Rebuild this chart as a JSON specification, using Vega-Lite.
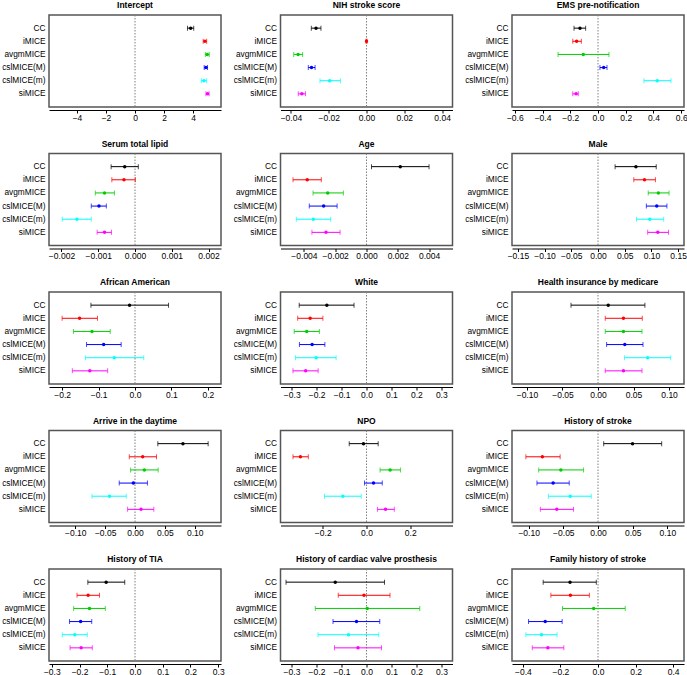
{
"$schema":"https://vega.github.io/schema/vega-lite/v6.json",
"padding":{"left":0,"top":0,"right":0,"bottom":0},
"bounds":"flush",
"columns":3,
"spacing":{"row":46.5,"column":59.5},
"datasets":{"d":[
{"v":"Intercept","m":"CC","est":3.84,"lo":3.62,"hi":4.05},
{"v":"Intercept","m":"iMICE","est":4.82,"lo":4.70,"hi":4.94},
{"v":"Intercept","m":"avgmMICE","est":4.98,"lo":4.85,"hi":5.12},
{"v":"Intercept","m":"cslMICE(M)","est":4.89,"lo":4.77,"hi":5.00},
{"v":"Intercept","m":"cslMICE(m)","est":4.75,"lo":4.57,"hi":4.94},
{"v":"Intercept","m":"siMICE","est":5.00,"lo":4.89,"hi":5.11},
{"v":"NIH stroke score","m":"CC","est":-0.0267,"lo":-0.0292,"hi":-0.0241},
{"v":"NIH stroke score","m":"iMICE","est":0.0,"lo":-0.0003,"hi":0.0003},
{"v":"NIH stroke score","m":"avgmMICE","est":-0.0362,"lo":-0.0385,"hi":-0.0338},
{"v":"NIH stroke score","m":"cslMICE(M)","est":-0.0291,"lo":-0.0308,"hi":-0.0272},
{"v":"NIH stroke score","m":"cslMICE(m)","est":-0.0195,"lo":-0.0246,"hi":-0.0138},
{"v":"NIH stroke score","m":"siMICE","est":-0.0342,"lo":-0.0361,"hi":-0.0323},
{"v":"EMS pre-notification","m":"CC","est":-0.130,"lo":-0.173,"hi":-0.089},
{"v":"EMS pre-notification","m":"iMICE","est":-0.154,"lo":-0.182,"hi":-0.120},
{"v":"EMS pre-notification","m":"avgmMICE","est":-0.106,"lo":-0.288,"hi":0.079},
{"v":"EMS pre-notification","m":"cslMICE(M)","est":0.041,"lo":0.014,"hi":0.065},
{"v":"EMS pre-notification","m":"cslMICE(m)","est":0.427,"lo":0.331,"hi":0.526},
{"v":"EMS pre-notification","m":"siMICE","est":-0.158,"lo":-0.182,"hi":-0.142},
{"v":"Serum total lipid","m":"CC","est":-0.00028,"lo":-0.00065,"hi":0.00009},
{"v":"Serum total lipid","m":"iMICE","est":-0.00030,"lo":-0.00063,"hi":0.00001},
{"v":"Serum total lipid","m":"avgmMICE","est":-0.00083,"lo":-0.00108,"hi":-0.00056},
{"v":"Serum total lipid","m":"cslMICE(M)","est":-0.00098,"lo":-0.00119,"hi":-0.00078},
{"v":"Serum total lipid","m":"cslMICE(m)","est":-0.00158,"lo":-0.00198,"hi":-0.00119},
{"v":"Serum total lipid","m":"siMICE","est":-0.00083,"lo":-0.00103,"hi":-0.00064},
{"v":"Age","m":"CC","est":0.00216,"lo":0.00032,"hi":0.00400},
{"v":"Age","m":"iMICE","est":-0.00379,"lo":-0.00470,"hi":-0.00289},
{"v":"Age","m":"avgmMICE","est":-0.00248,"lo":-0.00342,"hi":-0.00148},
{"v":"Age","m":"cslMICE(M)","est":-0.00274,"lo":-0.00366,"hi":-0.00188},
{"v":"Age","m":"cslMICE(m)","est":-0.00340,"lo":-0.00449,"hi":-0.00229},
{"v":"Age","m":"siMICE","est":-0.00259,"lo":-0.00349,"hi":-0.00169},
{"v":"Male","m":"CC","est":0.071,"lo":0.032,"hi":0.109},
{"v":"Male","m":"iMICE","est":0.087,"lo":0.067,"hi":0.1075},
{"v":"Male","m":"avgmMICE","est":0.113,"lo":0.094,"hi":0.133},
{"v":"Male","m":"cslMICE(M)","est":0.110,"lo":0.0905,"hi":0.129},
{"v":"Male","m":"cslMICE(m)","est":0.097,"lo":0.072,"hi":0.123},
{"v":"Male","m":"siMICE","est":0.112,"lo":0.093,"hi":0.132},
{"v":"African American","m":"CC","est":-0.015,"lo":-0.121,"hi":0.092},
{"v":"African American","m":"iMICE","est":-0.152,"lo":-0.200,"hi":-0.103},
{"v":"African American","m":"avgmMICE","est":-0.118,"lo":-0.169,"hi":-0.068},
{"v":"African American","m":"cslMICE(M)","est":-0.086,"lo":-0.133,"hi":-0.038},
{"v":"African American","m":"cslMICE(m)","est":-0.057,"lo":-0.136,"hi":0.024},
{"v":"African American","m":"siMICE","est":-0.124,"lo":-0.172,"hi":-0.075},
{"v":"White","m":"CC","est":-0.159,"lo":-0.270,"hi":-0.050},
{"v":"White","m":"iMICE","est":-0.226,"lo":-0.276,"hi":-0.175},
{"v":"White","m":"avgmMICE","est":-0.240,"lo":-0.290,"hi":-0.189},
{"v":"White","m":"cslMICE(M)","est":-0.218,"lo":-0.269,"hi":-0.167},
{"v":"White","m":"cslMICE(m)","est":-0.202,"lo":-0.285,"hi":-0.122},
{"v":"White","m":"siMICE","est":-0.244,"lo":-0.295,"hi":-0.194},
{"v":"Health insurance by medicare","m":"CC","est":0.0144,"lo":-0.038,"hi":0.066},
{"v":"Health insurance by medicare","m":"iMICE","est":0.0358,"lo":0.0102,"hi":0.0623},
{"v":"Health insurance by medicare","m":"avgmMICE","est":0.0358,"lo":0.0102,"hi":0.0619},
{"v":"Health insurance by medicare","m":"cslMICE(M)","est":0.0377,"lo":0.0121,"hi":0.0633},
{"v":"Health insurance by medicare","m":"cslMICE(m)","est":0.0698,"lo":0.0372,"hi":0.1023},
{"v":"Health insurance by medicare","m":"siMICE","est":0.0358,"lo":0.0102,"hi":0.0619},
{"v":"Arrive in the daytime","m":"CC","est":0.0803,"lo":0.0382,"hi":0.1225},
{"v":"Arrive in the daytime","m":"iMICE","est":0.0129,"lo":-0.0096,"hi":0.0360},
{"v":"Arrive in the daytime","m":"avgmMICE","est":0.0157,"lo":-0.0073,"hi":0.0388},
{"v":"Arrive in the daytime","m":"cslMICE(M)","est":-0.0028,"lo":-0.0264,"hi":0.0208},
{"v":"Arrive in the daytime","m":"cslMICE(m)","est":-0.0427,"lo":-0.0719,"hi":-0.0146},
{"v":"Arrive in the daytime","m":"siMICE","est":0.0101,"lo":-0.0124,"hi":0.0315},
{"v":"NPO","m":"CC","est":-0.0137,"lo":-0.079,"hi":0.0534},
{"v":"NPO","m":"iMICE","est":-0.302,"lo":-0.336,"hi":-0.266},
{"v":"NPO","m":"avgmMICE","est":0.108,"lo":0.062,"hi":0.155},
{"v":"NPO","m":"cslMICE(M)","est":0.032,"lo":-0.009,"hi":0.072},
{"v":"NPO","m":"cslMICE(m)","est":-0.108,"lo":-0.192,"hi":-0.024},
{"v":"NPO","m":"siMICE","est":0.087,"lo":0.050,"hi":0.127},
{"v":"History of stroke","m":"CC","est":0.0498,"lo":0.0082,"hi":0.0918},
{"v":"History of stroke","m":"iMICE","est":-0.0802,"lo":-0.104,"hi":-0.0546},
{"v":"History of stroke","m":"avgmMICE","est":-0.0536,"lo":-0.0855,"hi":-0.0208},
{"v":"History of stroke","m":"cslMICE(M)","est":-0.0647,"lo":-0.088,"hi":-0.0415},
{"v":"History of stroke","m":"cslMICE(m)","est":-0.0401,"lo":-0.0715,"hi":-0.0097},
{"v":"History of stroke","m":"siMICE","est":-0.0594,"lo":-0.0831,"hi":-0.0353},
{"v":"History of TIA","m":"CC","est":-0.104,"lo":-0.170,"hi":-0.037},
{"v":"History of TIA","m":"iMICE","est":-0.169,"lo":-0.209,"hi":-0.128},
{"v":"History of TIA","m":"avgmMICE","est":-0.164,"lo":-0.221,"hi":-0.107},
{"v":"History of TIA","m":"cslMICE(M)","est":-0.196,"lo":-0.236,"hi":-0.156},
{"v":"History of TIA","m":"cslMICE(m)","est":-0.217,"lo":-0.262,"hi":-0.172},
{"v":"History of TIA","m":"siMICE","est":-0.194,"lo":-0.234,"hi":-0.154},
{"v":"History of cardiac valve prosthesis","m":"CC","est":-0.125,"lo":-0.322,"hi":0.072},
{"v":"History of cardiac valve prosthesis","m":"iMICE","est":-0.010,"lo":-0.113,"hi":0.094},
{"v":"History of cardiac valve prosthesis","m":"avgmMICE","est":0.003,"lo":-0.205,"hi":0.213},
{"v":"History of cardiac valve prosthesis","m":"cslMICE(M)","est":-0.040,"lo":-0.134,"hi":0.053},
{"v":"History of cardiac valve prosthesis","m":"cslMICE(m)","est":-0.072,"lo":-0.194,"hi":0.049},
{"v":"History of cardiac valve prosthesis","m":"siMICE","est":-0.034,"lo":-0.128,"hi":0.060},
{"v":"Family history of stroke","m":"CC","est":-0.149,"lo":-0.292,"hi":-0.009},
{"v":"Family history of stroke","m":"iMICE","est":-0.147,"lo":-0.251,"hi":-0.046},
{"v":"Family history of stroke","m":"avgmMICE","est":-0.023,"lo":-0.189,"hi":0.145},
{"v":"Family history of stroke","m":"cslMICE(M)","est":-0.281,"lo":-0.370,"hi":-0.191},
{"v":"Family history of stroke","m":"cslMICE(m)","est":-0.301,"lo":-0.384,"hi":-0.218},
{"v":"Family history of stroke","m":"siMICE","est":-0.267,"lo":-0.350,"hi":-0.182}
]},
"concat":[
{"title":"Intercept","width":172,"height":92,"data":{"name":"d"},"transform":[{"filter":"datum.v==='Intercept'"}],"layer":[
{"transform":[{"filter":"datum.m==='CC'"}],"mark":{"type":"rule","color":"#808080","strokeDash":[1.5,1.5]},"encoding":{"x":{"datum":0,"type":"quantitative","scale":{"domain":[-5.93,5.93],"nice":false,"zero":false},"axis":{"title":null,"values":[-4,-2,0,2,4],"format":"d","labelOverlap":false,"labelFlush":false}}}},
{"mark":"rule","encoding":{"x":{"field":"lo","type":"quantitative","scale":{"domain":[-5.93,5.93],"nice":false,"zero":false},"axis":{"title":null,"values":[-4,-2,0,2,4],"format":"d","labelOverlap":false,"labelFlush":false}},"x2":{"field":"hi"},"y":{"field":"m","type":"nominal","sort":["CC","iMICE","avgmMICE","cslMICE(M)","cslMICE(m)","siMICE"],"scale":{"type":"point","padding":1.24},"axis":{"title":null}},"color":{"field":"m","type":"nominal","scale":{"domain":["CC","iMICE","avgmMICE","cslMICE(M)","cslMICE(m)","siMICE"],"range":["#000000","#FF0000","#00CD00","#0000FF","#00FFFF","#FF00FF"]},"legend":null}}},
{"mark":"tick","encoding":{"x":{"field":"lo","type":"quantitative","scale":{"domain":[-5.93,5.93],"nice":false,"zero":false},"axis":{"title":null,"values":[-4,-2,0,2,4],"format":"d","labelOverlap":false,"labelFlush":false}},"y":{"field":"m","type":"nominal","sort":["CC","iMICE","avgmMICE","cslMICE(M)","cslMICE(m)","siMICE"]},"color":{"field":"m","type":"nominal","legend":null}}},
{"mark":"tick","encoding":{"x":{"field":"hi","type":"quantitative","scale":{"domain":[-5.93,5.93],"nice":false,"zero":false},"axis":{"title":null,"values":[-4,-2,0,2,4],"format":"d","labelOverlap":false,"labelFlush":false}},"y":{"field":"m","type":"nominal","sort":["CC","iMICE","avgmMICE","cslMICE(M)","cslMICE(m)","siMICE"]},"color":{"field":"m","type":"nominal","legend":null}}},
{"mark":"point","encoding":{"x":{"field":"est","type":"quantitative","scale":{"domain":[-5.93,5.93],"nice":false,"zero":false},"axis":{"title":null,"values":[-4,-2,0,2,4],"format":"d","labelOverlap":false,"labelFlush":false}},"y":{"field":"m","type":"nominal","sort":["CC","iMICE","avgmMICE","cslMICE(M)","cslMICE(m)","siMICE"]},"color":{"field":"m","type":"nominal","legend":null}}}
]},
{"title":"NIH stroke score","width":172,"height":92,"data":{"name":"d"},"transform":[{"filter":"datum.v==='NIH stroke score'"}],"layer":[
{"transform":[{"filter":"datum.m==='CC'"}],"mark":{"type":"rule","color":"#808080","strokeDash":[1.5,1.5]},"encoding":{"x":{"datum":0,"type":"quantitative","scale":{"domain":[-0.0455,0.0455],"nice":false,"zero":false},"axis":{"title":null,"values":[-0.04,-0.02,0,0.02,0.04],"format":".2f","labelOverlap":false,"labelFlush":false}}}},
{"mark":"rule","encoding":{"x":{"field":"lo","type":"quantitative","scale":{"domain":[-0.0455,0.0455],"nice":false,"zero":false},"axis":{"title":null,"values":[-0.04,-0.02,0,0.02,0.04],"format":".2f","labelOverlap":false,"labelFlush":false}},"x2":{"field":"hi"},"y":{"field":"m","type":"nominal","sort":["CC","iMICE","avgmMICE","cslMICE(M)","cslMICE(m)","siMICE"],"scale":{"type":"point","padding":1.24},"axis":{"title":null}},"color":{"field":"m","type":"nominal","scale":{"domain":["CC","iMICE","avgmMICE","cslMICE(M)","cslMICE(m)","siMICE"],"range":["#000000","#FF0000","#00CD00","#0000FF","#00FFFF","#FF00FF"]},"legend":null}}},
{"mark":"tick","encoding":{"x":{"field":"lo","type":"quantitative","scale":{"domain":[-0.0455,0.0455],"nice":false,"zero":false},"axis":{"title":null,"values":[-0.04,-0.02,0,0.02,0.04],"format":".2f","labelOverlap":false,"labelFlush":false}},"y":{"field":"m","type":"nominal","sort":["CC","iMICE","avgmMICE","cslMICE(M)","cslMICE(m)","siMICE"]},"color":{"field":"m","type":"nominal","legend":null}}},
{"mark":"tick","encoding":{"x":{"field":"hi","type":"quantitative","scale":{"domain":[-0.0455,0.0455],"nice":false,"zero":false},"axis":{"title":null,"values":[-0.04,-0.02,0,0.02,0.04],"format":".2f","labelOverlap":false,"labelFlush":false}},"y":{"field":"m","type":"nominal","sort":["CC","iMICE","avgmMICE","cslMICE(M)","cslMICE(m)","siMICE"]},"color":{"field":"m","type":"nominal","legend":null}}},
{"mark":"point","encoding":{"x":{"field":"est","type":"quantitative","scale":{"domain":[-0.0455,0.0455],"nice":false,"zero":false},"axis":{"title":null,"values":[-0.04,-0.02,0,0.02,0.04],"format":".2f","labelOverlap":false,"labelFlush":false}},"y":{"field":"m","type":"nominal","sort":["CC","iMICE","avgmMICE","cslMICE(M)","cslMICE(m)","siMICE"]},"color":{"field":"m","type":"nominal","legend":null}}}
]},
{"title":"EMS pre-notification","width":172,"height":92,"data":{"name":"d"},"transform":[{"filter":"datum.v==='EMS pre-notification'"}],"layer":[
{"transform":[{"filter":"datum.m==='CC'"}],"mark":{"type":"rule","color":"#808080","strokeDash":[1.5,1.5]},"encoding":{"x":{"datum":0,"type":"quantitative","scale":{"domain":[-0.62,0.62],"nice":false,"zero":false},"axis":{"title":null,"values":[-0.6,-0.4,-0.2,0,0.2,0.4,0.6],"format":".1f","labelOverlap":false,"labelFlush":false}}}},
{"mark":"rule","encoding":{"x":{"field":"lo","type":"quantitative","scale":{"domain":[-0.62,0.62],"nice":false,"zero":false},"axis":{"title":null,"values":[-0.6,-0.4,-0.2,0,0.2,0.4,0.6],"format":".1f","labelOverlap":false,"labelFlush":false}},"x2":{"field":"hi"},"y":{"field":"m","type":"nominal","sort":["CC","iMICE","avgmMICE","cslMICE(M)","cslMICE(m)","siMICE"],"scale":{"type":"point","padding":1.24},"axis":{"title":null}},"color":{"field":"m","type":"nominal","scale":{"domain":["CC","iMICE","avgmMICE","cslMICE(M)","cslMICE(m)","siMICE"],"range":["#000000","#FF0000","#00CD00","#0000FF","#00FFFF","#FF00FF"]},"legend":null}}},
{"mark":"tick","encoding":{"x":{"field":"lo","type":"quantitative","scale":{"domain":[-0.62,0.62],"nice":false,"zero":false},"axis":{"title":null,"values":[-0.6,-0.4,-0.2,0,0.2,0.4,0.6],"format":".1f","labelOverlap":false,"labelFlush":false}},"y":{"field":"m","type":"nominal","sort":["CC","iMICE","avgmMICE","cslMICE(M)","cslMICE(m)","siMICE"]},"color":{"field":"m","type":"nominal","legend":null}}},
{"mark":"tick","encoding":{"x":{"field":"hi","type":"quantitative","scale":{"domain":[-0.62,0.62],"nice":false,"zero":false},"axis":{"title":null,"values":[-0.6,-0.4,-0.2,0,0.2,0.4,0.6],"format":".1f","labelOverlap":false,"labelFlush":false}},"y":{"field":"m","type":"nominal","sort":["CC","iMICE","avgmMICE","cslMICE(M)","cslMICE(m)","siMICE"]},"color":{"field":"m","type":"nominal","legend":null}}},
{"mark":"point","encoding":{"x":{"field":"est","type":"quantitative","scale":{"domain":[-0.62,0.62],"nice":false,"zero":false},"axis":{"title":null,"values":[-0.6,-0.4,-0.2,0,0.2,0.4,0.6],"format":".1f","labelOverlap":false,"labelFlush":false}},"y":{"field":"m","type":"nominal","sort":["CC","iMICE","avgmMICE","cslMICE(M)","cslMICE(m)","siMICE"]},"color":{"field":"m","type":"nominal","legend":null}}}
]},
{"title":"Serum total lipid","width":172,"height":92,"data":{"name":"d"},"transform":[{"filter":"datum.v==='Serum total lipid'"}],"layer":[
{"transform":[{"filter":"datum.m==='CC'"}],"mark":{"type":"rule","color":"#808080","strokeDash":[1.5,1.5]},"encoding":{"x":{"datum":0,"type":"quantitative","scale":{"domain":[-0.00234,0.00234],"nice":false,"zero":false},"axis":{"title":null,"values":[-0.002,-0.001,0,0.001,0.002],"format":".3f","labelOverlap":false,"labelFlush":false}}}},
{"mark":"rule","encoding":{"x":{"field":"lo","type":"quantitative","scale":{"domain":[-0.00234,0.00234],"nice":false,"zero":false},"axis":{"title":null,"values":[-0.002,-0.001,0,0.001,0.002],"format":".3f","labelOverlap":false,"labelFlush":false}},"x2":{"field":"hi"},"y":{"field":"m","type":"nominal","sort":["CC","iMICE","avgmMICE","cslMICE(M)","cslMICE(m)","siMICE"],"scale":{"type":"point","padding":1.24},"axis":{"title":null}},"color":{"field":"m","type":"nominal","scale":{"domain":["CC","iMICE","avgmMICE","cslMICE(M)","cslMICE(m)","siMICE"],"range":["#000000","#FF0000","#00CD00","#0000FF","#00FFFF","#FF00FF"]},"legend":null}}},
{"mark":"tick","encoding":{"x":{"field":"lo","type":"quantitative","scale":{"domain":[-0.00234,0.00234],"nice":false,"zero":false},"axis":{"title":null,"values":[-0.002,-0.001,0,0.001,0.002],"format":".3f","labelOverlap":false,"labelFlush":false}},"y":{"field":"m","type":"nominal","sort":["CC","iMICE","avgmMICE","cslMICE(M)","cslMICE(m)","siMICE"]},"color":{"field":"m","type":"nominal","legend":null}}},
{"mark":"tick","encoding":{"x":{"field":"hi","type":"quantitative","scale":{"domain":[-0.00234,0.00234],"nice":false,"zero":false},"axis":{"title":null,"values":[-0.002,-0.001,0,0.001,0.002],"format":".3f","labelOverlap":false,"labelFlush":false}},"y":{"field":"m","type":"nominal","sort":["CC","iMICE","avgmMICE","cslMICE(M)","cslMICE(m)","siMICE"]},"color":{"field":"m","type":"nominal","legend":null}}},
{"mark":"point","encoding":{"x":{"field":"est","type":"quantitative","scale":{"domain":[-0.00234,0.00234],"nice":false,"zero":false},"axis":{"title":null,"values":[-0.002,-0.001,0,0.001,0.002],"format":".3f","labelOverlap":false,"labelFlush":false}},"y":{"field":"m","type":"nominal","sort":["CC","iMICE","avgmMICE","cslMICE(M)","cslMICE(m)","siMICE"]},"color":{"field":"m","type":"nominal","legend":null}}}
]},
{"title":"Age","width":172,"height":92,"data":{"name":"d"},"transform":[{"filter":"datum.v==='Age'"}],"layer":[
{"transform":[{"filter":"datum.m==='CC'"}],"mark":{"type":"rule","color":"#808080","strokeDash":[1.5,1.5]},"encoding":{"x":{"datum":0,"type":"quantitative","scale":{"domain":[-0.0055,0.0055],"nice":false,"zero":false},"axis":{"title":null,"values":[-0.004,-0.002,0,0.002,0.004],"format":".3f","labelOverlap":false,"labelFlush":false}}}},
{"mark":"rule","encoding":{"x":{"field":"lo","type":"quantitative","scale":{"domain":[-0.0055,0.0055],"nice":false,"zero":false},"axis":{"title":null,"values":[-0.004,-0.002,0,0.002,0.004],"format":".3f","labelOverlap":false,"labelFlush":false}},"x2":{"field":"hi"},"y":{"field":"m","type":"nominal","sort":["CC","iMICE","avgmMICE","cslMICE(M)","cslMICE(m)","siMICE"],"scale":{"type":"point","padding":1.24},"axis":{"title":null}},"color":{"field":"m","type":"nominal","scale":{"domain":["CC","iMICE","avgmMICE","cslMICE(M)","cslMICE(m)","siMICE"],"range":["#000000","#FF0000","#00CD00","#0000FF","#00FFFF","#FF00FF"]},"legend":null}}},
{"mark":"tick","encoding":{"x":{"field":"lo","type":"quantitative","scale":{"domain":[-0.0055,0.0055],"nice":false,"zero":false},"axis":{"title":null,"values":[-0.004,-0.002,0,0.002,0.004],"format":".3f","labelOverlap":false,"labelFlush":false}},"y":{"field":"m","type":"nominal","sort":["CC","iMICE","avgmMICE","cslMICE(M)","cslMICE(m)","siMICE"]},"color":{"field":"m","type":"nominal","legend":null}}},
{"mark":"tick","encoding":{"x":{"field":"hi","type":"quantitative","scale":{"domain":[-0.0055,0.0055],"nice":false,"zero":false},"axis":{"title":null,"values":[-0.004,-0.002,0,0.002,0.004],"format":".3f","labelOverlap":false,"labelFlush":false}},"y":{"field":"m","type":"nominal","sort":["CC","iMICE","avgmMICE","cslMICE(M)","cslMICE(m)","siMICE"]},"color":{"field":"m","type":"nominal","legend":null}}},
{"mark":"point","encoding":{"x":{"field":"est","type":"quantitative","scale":{"domain":[-0.0055,0.0055],"nice":false,"zero":false},"axis":{"title":null,"values":[-0.004,-0.002,0,0.002,0.004],"format":".3f","labelOverlap":false,"labelFlush":false}},"y":{"field":"m","type":"nominal","sort":["CC","iMICE","avgmMICE","cslMICE(M)","cslMICE(m)","siMICE"]},"color":{"field":"m","type":"nominal","legend":null}}}
]},
{"title":"Male","width":172,"height":92,"data":{"name":"d"},"transform":[{"filter":"datum.v==='Male'"}],"layer":[
{"transform":[{"filter":"datum.m==='CC'"}],"mark":{"type":"rule","color":"#808080","strokeDash":[1.5,1.5]},"encoding":{"x":{"datum":0,"type":"quantitative","scale":{"domain":[-0.161,0.161],"nice":false,"zero":false},"axis":{"title":null,"values":[-0.15,-0.1,-0.05,0,0.05,0.1,0.15],"format":".2f","labelOverlap":false,"labelFlush":false}}}},
{"mark":"rule","encoding":{"x":{"field":"lo","type":"quantitative","scale":{"domain":[-0.161,0.161],"nice":false,"zero":false},"axis":{"title":null,"values":[-0.15,-0.1,-0.05,0,0.05,0.1,0.15],"format":".2f","labelOverlap":false,"labelFlush":false}},"x2":{"field":"hi"},"y":{"field":"m","type":"nominal","sort":["CC","iMICE","avgmMICE","cslMICE(M)","cslMICE(m)","siMICE"],"scale":{"type":"point","padding":1.24},"axis":{"title":null}},"color":{"field":"m","type":"nominal","scale":{"domain":["CC","iMICE","avgmMICE","cslMICE(M)","cslMICE(m)","siMICE"],"range":["#000000","#FF0000","#00CD00","#0000FF","#00FFFF","#FF00FF"]},"legend":null}}},
{"mark":"tick","encoding":{"x":{"field":"lo","type":"quantitative","scale":{"domain":[-0.161,0.161],"nice":false,"zero":false},"axis":{"title":null,"values":[-0.15,-0.1,-0.05,0,0.05,0.1,0.15],"format":".2f","labelOverlap":false,"labelFlush":false}},"y":{"field":"m","type":"nominal","sort":["CC","iMICE","avgmMICE","cslMICE(M)","cslMICE(m)","siMICE"]},"color":{"field":"m","type":"nominal","legend":null}}},
{"mark":"tick","encoding":{"x":{"field":"hi","type":"quantitative","scale":{"domain":[-0.161,0.161],"nice":false,"zero":false},"axis":{"title":null,"values":[-0.15,-0.1,-0.05,0,0.05,0.1,0.15],"format":".2f","labelOverlap":false,"labelFlush":false}},"y":{"field":"m","type":"nominal","sort":["CC","iMICE","avgmMICE","cslMICE(M)","cslMICE(m)","siMICE"]},"color":{"field":"m","type":"nominal","legend":null}}},
{"mark":"point","encoding":{"x":{"field":"est","type":"quantitative","scale":{"domain":[-0.161,0.161],"nice":false,"zero":false},"axis":{"title":null,"values":[-0.15,-0.1,-0.05,0,0.05,0.1,0.15],"format":".2f","labelOverlap":false,"labelFlush":false}},"y":{"field":"m","type":"nominal","sort":["CC","iMICE","avgmMICE","cslMICE(M)","cslMICE(m)","siMICE"]},"color":{"field":"m","type":"nominal","legend":null}}}
]},
{"title":"African American","width":172,"height":92,"data":{"name":"d"},"transform":[{"filter":"datum.v==='African American'"}],"layer":[
{"transform":[{"filter":"datum.m==='CC'"}],"mark":{"type":"rule","color":"#808080","strokeDash":[1.5,1.5]},"encoding":{"x":{"datum":0,"type":"quantitative","scale":{"domain":[-0.236,0.236],"nice":false,"zero":false},"axis":{"title":null,"values":[-0.2,-0.1,0,0.1,0.2],"format":".1f","labelOverlap":false,"labelFlush":false}}}},
{"mark":"rule","encoding":{"x":{"field":"lo","type":"quantitative","scale":{"domain":[-0.236,0.236],"nice":false,"zero":false},"axis":{"title":null,"values":[-0.2,-0.1,0,0.1,0.2],"format":".1f","labelOverlap":false,"labelFlush":false}},"x2":{"field":"hi"},"y":{"field":"m","type":"nominal","sort":["CC","iMICE","avgmMICE","cslMICE(M)","cslMICE(m)","siMICE"],"scale":{"type":"point","padding":1.24},"axis":{"title":null}},"color":{"field":"m","type":"nominal","scale":{"domain":["CC","iMICE","avgmMICE","cslMICE(M)","cslMICE(m)","siMICE"],"range":["#000000","#FF0000","#00CD00","#0000FF","#00FFFF","#FF00FF"]},"legend":null}}},
{"mark":"tick","encoding":{"x":{"field":"lo","type":"quantitative","scale":{"domain":[-0.236,0.236],"nice":false,"zero":false},"axis":{"title":null,"values":[-0.2,-0.1,0,0.1,0.2],"format":".1f","labelOverlap":false,"labelFlush":false}},"y":{"field":"m","type":"nominal","sort":["CC","iMICE","avgmMICE","cslMICE(M)","cslMICE(m)","siMICE"]},"color":{"field":"m","type":"nominal","legend":null}}},
{"mark":"tick","encoding":{"x":{"field":"hi","type":"quantitative","scale":{"domain":[-0.236,0.236],"nice":false,"zero":false},"axis":{"title":null,"values":[-0.2,-0.1,0,0.1,0.2],"format":".1f","labelOverlap":false,"labelFlush":false}},"y":{"field":"m","type":"nominal","sort":["CC","iMICE","avgmMICE","cslMICE(M)","cslMICE(m)","siMICE"]},"color":{"field":"m","type":"nominal","legend":null}}},
{"mark":"point","encoding":{"x":{"field":"est","type":"quantitative","scale":{"domain":[-0.236,0.236],"nice":false,"zero":false},"axis":{"title":null,"values":[-0.2,-0.1,0,0.1,0.2],"format":".1f","labelOverlap":false,"labelFlush":false}},"y":{"field":"m","type":"nominal","sort":["CC","iMICE","avgmMICE","cslMICE(M)","cslMICE(m)","siMICE"]},"color":{"field":"m","type":"nominal","legend":null}}}
]},
{"title":"White","width":172,"height":92,"data":{"name":"d"},"transform":[{"filter":"datum.v==='White'"}],"layer":[
{"transform":[{"filter":"datum.m==='CC'"}],"mark":{"type":"rule","color":"#808080","strokeDash":[1.5,1.5]},"encoding":{"x":{"datum":0,"type":"quantitative","scale":{"domain":[-0.345,0.345],"nice":false,"zero":false},"axis":{"title":null,"values":[-0.3,-0.2,-0.1,0,0.1,0.2,0.3],"format":".1f","labelOverlap":false,"labelFlush":false}}}},
{"mark":"rule","encoding":{"x":{"field":"lo","type":"quantitative","scale":{"domain":[-0.345,0.345],"nice":false,"zero":false},"axis":{"title":null,"values":[-0.3,-0.2,-0.1,0,0.1,0.2,0.3],"format":".1f","labelOverlap":false,"labelFlush":false}},"x2":{"field":"hi"},"y":{"field":"m","type":"nominal","sort":["CC","iMICE","avgmMICE","cslMICE(M)","cslMICE(m)","siMICE"],"scale":{"type":"point","padding":1.24},"axis":{"title":null}},"color":{"field":"m","type":"nominal","scale":{"domain":["CC","iMICE","avgmMICE","cslMICE(M)","cslMICE(m)","siMICE"],"range":["#000000","#FF0000","#00CD00","#0000FF","#00FFFF","#FF00FF"]},"legend":null}}},
{"mark":"tick","encoding":{"x":{"field":"lo","type":"quantitative","scale":{"domain":[-0.345,0.345],"nice":false,"zero":false},"axis":{"title":null,"values":[-0.3,-0.2,-0.1,0,0.1,0.2,0.3],"format":".1f","labelOverlap":false,"labelFlush":false}},"y":{"field":"m","type":"nominal","sort":["CC","iMICE","avgmMICE","cslMICE(M)","cslMICE(m)","siMICE"]},"color":{"field":"m","type":"nominal","legend":null}}},
{"mark":"tick","encoding":{"x":{"field":"hi","type":"quantitative","scale":{"domain":[-0.345,0.345],"nice":false,"zero":false},"axis":{"title":null,"values":[-0.3,-0.2,-0.1,0,0.1,0.2,0.3],"format":".1f","labelOverlap":false,"labelFlush":false}},"y":{"field":"m","type":"nominal","sort":["CC","iMICE","avgmMICE","cslMICE(M)","cslMICE(m)","siMICE"]},"color":{"field":"m","type":"nominal","legend":null}}},
{"mark":"point","encoding":{"x":{"field":"est","type":"quantitative","scale":{"domain":[-0.345,0.345],"nice":false,"zero":false},"axis":{"title":null,"values":[-0.3,-0.2,-0.1,0,0.1,0.2,0.3],"format":".1f","labelOverlap":false,"labelFlush":false}},"y":{"field":"m","type":"nominal","sort":["CC","iMICE","avgmMICE","cslMICE(M)","cslMICE(m)","siMICE"]},"color":{"field":"m","type":"nominal","legend":null}}}
]},
{"title":"Health insurance by medicare","width":172,"height":92,"data":{"name":"d"},"transform":[{"filter":"datum.v==='Health insurance by medicare'"}],"layer":[
{"transform":[{"filter":"datum.m==='CC'"}],"mark":{"type":"rule","color":"#808080","strokeDash":[1.5,1.5]},"encoding":{"x":{"datum":0,"type":"quantitative","scale":{"domain":[-0.121,0.121],"nice":false,"zero":false},"axis":{"title":null,"values":[-0.1,-0.05,0,0.05,0.1],"format":".2f","labelOverlap":false,"labelFlush":false}}}},
{"mark":"rule","encoding":{"x":{"field":"lo","type":"quantitative","scale":{"domain":[-0.121,0.121],"nice":false,"zero":false},"axis":{"title":null,"values":[-0.1,-0.05,0,0.05,0.1],"format":".2f","labelOverlap":false,"labelFlush":false}},"x2":{"field":"hi"},"y":{"field":"m","type":"nominal","sort":["CC","iMICE","avgmMICE","cslMICE(M)","cslMICE(m)","siMICE"],"scale":{"type":"point","padding":1.24},"axis":{"title":null}},"color":{"field":"m","type":"nominal","scale":{"domain":["CC","iMICE","avgmMICE","cslMICE(M)","cslMICE(m)","siMICE"],"range":["#000000","#FF0000","#00CD00","#0000FF","#00FFFF","#FF00FF"]},"legend":null}}},
{"mark":"tick","encoding":{"x":{"field":"lo","type":"quantitative","scale":{"domain":[-0.121,0.121],"nice":false,"zero":false},"axis":{"title":null,"values":[-0.1,-0.05,0,0.05,0.1],"format":".2f","labelOverlap":false,"labelFlush":false}},"y":{"field":"m","type":"nominal","sort":["CC","iMICE","avgmMICE","cslMICE(M)","cslMICE(m)","siMICE"]},"color":{"field":"m","type":"nominal","legend":null}}},
{"mark":"tick","encoding":{"x":{"field":"hi","type":"quantitative","scale":{"domain":[-0.121,0.121],"nice":false,"zero":false},"axis":{"title":null,"values":[-0.1,-0.05,0,0.05,0.1],"format":".2f","labelOverlap":false,"labelFlush":false}},"y":{"field":"m","type":"nominal","sort":["CC","iMICE","avgmMICE","cslMICE(M)","cslMICE(m)","siMICE"]},"color":{"field":"m","type":"nominal","legend":null}}},
{"mark":"point","encoding":{"x":{"field":"est","type":"quantitative","scale":{"domain":[-0.121,0.121],"nice":false,"zero":false},"axis":{"title":null,"values":[-0.1,-0.05,0,0.05,0.1],"format":".2f","labelOverlap":false,"labelFlush":false}},"y":{"field":"m","type":"nominal","sort":["CC","iMICE","avgmMICE","cslMICE(M)","cslMICE(m)","siMICE"]},"color":{"field":"m","type":"nominal","legend":null}}}
]},
{"title":"Arrive in the daytime","width":172,"height":92,"data":{"name":"d"},"transform":[{"filter":"datum.v==='Arrive in the daytime'"}],"layer":[
{"transform":[{"filter":"datum.m==='CC'"}],"mark":{"type":"rule","color":"#808080","strokeDash":[1.5,1.5]},"encoding":{"x":{"datum":0,"type":"quantitative","scale":{"domain":[-0.144,0.144],"nice":false,"zero":false},"axis":{"title":null,"values":[-0.1,-0.05,0,0.05,0.1],"format":".2f","labelOverlap":false,"labelFlush":false}}}},
{"mark":"rule","encoding":{"x":{"field":"lo","type":"quantitative","scale":{"domain":[-0.144,0.144],"nice":false,"zero":false},"axis":{"title":null,"values":[-0.1,-0.05,0,0.05,0.1],"format":".2f","labelOverlap":false,"labelFlush":false}},"x2":{"field":"hi"},"y":{"field":"m","type":"nominal","sort":["CC","iMICE","avgmMICE","cslMICE(M)","cslMICE(m)","siMICE"],"scale":{"type":"point","padding":1.24},"axis":{"title":null}},"color":{"field":"m","type":"nominal","scale":{"domain":["CC","iMICE","avgmMICE","cslMICE(M)","cslMICE(m)","siMICE"],"range":["#000000","#FF0000","#00CD00","#0000FF","#00FFFF","#FF00FF"]},"legend":null}}},
{"mark":"tick","encoding":{"x":{"field":"lo","type":"quantitative","scale":{"domain":[-0.144,0.144],"nice":false,"zero":false},"axis":{"title":null,"values":[-0.1,-0.05,0,0.05,0.1],"format":".2f","labelOverlap":false,"labelFlush":false}},"y":{"field":"m","type":"nominal","sort":["CC","iMICE","avgmMICE","cslMICE(M)","cslMICE(m)","siMICE"]},"color":{"field":"m","type":"nominal","legend":null}}},
{"mark":"tick","encoding":{"x":{"field":"hi","type":"quantitative","scale":{"domain":[-0.144,0.144],"nice":false,"zero":false},"axis":{"title":null,"values":[-0.1,-0.05,0,0.05,0.1],"format":".2f","labelOverlap":false,"labelFlush":false}},"y":{"field":"m","type":"nominal","sort":["CC","iMICE","avgmMICE","cslMICE(M)","cslMICE(m)","siMICE"]},"color":{"field":"m","type":"nominal","legend":null}}},
{"mark":"point","encoding":{"x":{"field":"est","type":"quantitative","scale":{"domain":[-0.144,0.144],"nice":false,"zero":false},"axis":{"title":null,"values":[-0.1,-0.05,0,0.05,0.1],"format":".2f","labelOverlap":false,"labelFlush":false}},"y":{"field":"m","type":"nominal","sort":["CC","iMICE","avgmMICE","cslMICE(M)","cslMICE(m)","siMICE"]},"color":{"field":"m","type":"nominal","legend":null}}}
]},
{"title":"NPO","width":172,"height":92,"data":{"name":"d"},"transform":[{"filter":"datum.v==='NPO'"}],"layer":[
{"transform":[{"filter":"datum.m==='CC'"}],"mark":{"type":"rule","color":"#808080","strokeDash":[1.5,1.5]},"encoding":{"x":{"datum":0,"type":"quantitative","scale":{"domain":[-0.393,0.393],"nice":false,"zero":false},"axis":{"title":null,"values":[-0.2,0,0.2],"format":".1f","labelOverlap":false,"labelFlush":false}}}},
{"mark":"rule","encoding":{"x":{"field":"lo","type":"quantitative","scale":{"domain":[-0.393,0.393],"nice":false,"zero":false},"axis":{"title":null,"values":[-0.2,0,0.2],"format":".1f","labelOverlap":false,"labelFlush":false}},"x2":{"field":"hi"},"y":{"field":"m","type":"nominal","sort":["CC","iMICE","avgmMICE","cslMICE(M)","cslMICE(m)","siMICE"],"scale":{"type":"point","padding":1.24},"axis":{"title":null}},"color":{"field":"m","type":"nominal","scale":{"domain":["CC","iMICE","avgmMICE","cslMICE(M)","cslMICE(m)","siMICE"],"range":["#000000","#FF0000","#00CD00","#0000FF","#00FFFF","#FF00FF"]},"legend":null}}},
{"mark":"tick","encoding":{"x":{"field":"lo","type":"quantitative","scale":{"domain":[-0.393,0.393],"nice":false,"zero":false},"axis":{"title":null,"values":[-0.2,0,0.2],"format":".1f","labelOverlap":false,"labelFlush":false}},"y":{"field":"m","type":"nominal","sort":["CC","iMICE","avgmMICE","cslMICE(M)","cslMICE(m)","siMICE"]},"color":{"field":"m","type":"nominal","legend":null}}},
{"mark":"tick","encoding":{"x":{"field":"hi","type":"quantitative","scale":{"domain":[-0.393,0.393],"nice":false,"zero":false},"axis":{"title":null,"values":[-0.2,0,0.2],"format":".1f","labelOverlap":false,"labelFlush":false}},"y":{"field":"m","type":"nominal","sort":["CC","iMICE","avgmMICE","cslMICE(M)","cslMICE(m)","siMICE"]},"color":{"field":"m","type":"nominal","legend":null}}},
{"mark":"point","encoding":{"x":{"field":"est","type":"quantitative","scale":{"domain":[-0.393,0.393],"nice":false,"zero":false},"axis":{"title":null,"values":[-0.2,0,0.2],"format":".1f","labelOverlap":false,"labelFlush":false}},"y":{"field":"m","type":"nominal","sort":["CC","iMICE","avgmMICE","cslMICE(M)","cslMICE(m)","siMICE"]},"color":{"field":"m","type":"nominal","legend":null}}}
]},
{"title":"History of stroke","width":172,"height":92,"data":{"name":"d"},"transform":[{"filter":"datum.v==='History of stroke'"}],"layer":[
{"transform":[{"filter":"datum.m==='CC'"}],"mark":{"type":"rule","color":"#808080","strokeDash":[1.5,1.5]},"encoding":{"x":{"datum":0,"type":"quantitative","scale":{"domain":[-0.124,0.124],"nice":false,"zero":false},"axis":{"title":null,"values":[-0.1,-0.05,0,0.05,0.1],"format":".2f","labelOverlap":false,"labelFlush":false}}}},
{"mark":"rule","encoding":{"x":{"field":"lo","type":"quantitative","scale":{"domain":[-0.124,0.124],"nice":false,"zero":false},"axis":{"title":null,"values":[-0.1,-0.05,0,0.05,0.1],"format":".2f","labelOverlap":false,"labelFlush":false}},"x2":{"field":"hi"},"y":{"field":"m","type":"nominal","sort":["CC","iMICE","avgmMICE","cslMICE(M)","cslMICE(m)","siMICE"],"scale":{"type":"point","padding":1.24},"axis":{"title":null}},"color":{"field":"m","type":"nominal","scale":{"domain":["CC","iMICE","avgmMICE","cslMICE(M)","cslMICE(m)","siMICE"],"range":["#000000","#FF0000","#00CD00","#0000FF","#00FFFF","#FF00FF"]},"legend":null}}},
{"mark":"tick","encoding":{"x":{"field":"lo","type":"quantitative","scale":{"domain":[-0.124,0.124],"nice":false,"zero":false},"axis":{"title":null,"values":[-0.1,-0.05,0,0.05,0.1],"format":".2f","labelOverlap":false,"labelFlush":false}},"y":{"field":"m","type":"nominal","sort":["CC","iMICE","avgmMICE","cslMICE(M)","cslMICE(m)","siMICE"]},"color":{"field":"m","type":"nominal","legend":null}}},
{"mark":"tick","encoding":{"x":{"field":"hi","type":"quantitative","scale":{"domain":[-0.124,0.124],"nice":false,"zero":false},"axis":{"title":null,"values":[-0.1,-0.05,0,0.05,0.1],"format":".2f","labelOverlap":false,"labelFlush":false}},"y":{"field":"m","type":"nominal","sort":["CC","iMICE","avgmMICE","cslMICE(M)","cslMICE(m)","siMICE"]},"color":{"field":"m","type":"nominal","legend":null}}},
{"mark":"point","encoding":{"x":{"field":"est","type":"quantitative","scale":{"domain":[-0.124,0.124],"nice":false,"zero":false},"axis":{"title":null,"values":[-0.1,-0.05,0,0.05,0.1],"format":".2f","labelOverlap":false,"labelFlush":false}},"y":{"field":"m","type":"nominal","sort":["CC","iMICE","avgmMICE","cslMICE(M)","cslMICE(m)","siMICE"]},"color":{"field":"m","type":"nominal","legend":null}}}
]},
{"title":"History of TIA","width":172,"height":92,"data":{"name":"d"},"transform":[{"filter":"datum.v==='History of TIA'"}],"layer":[
{"transform":[{"filter":"datum.m==='CC'"}],"mark":{"type":"rule","color":"#808080","strokeDash":[1.5,1.5]},"encoding":{"x":{"datum":0,"type":"quantitative","scale":{"domain":[-0.31,0.31],"nice":false,"zero":false},"axis":{"title":null,"values":[-0.3,-0.2,-0.1,0,0.1,0.2,0.3],"format":".1f","labelOverlap":false,"labelFlush":false}}}},
{"mark":"rule","encoding":{"x":{"field":"lo","type":"quantitative","scale":{"domain":[-0.31,0.31],"nice":false,"zero":false},"axis":{"title":null,"values":[-0.3,-0.2,-0.1,0,0.1,0.2,0.3],"format":".1f","labelOverlap":false,"labelFlush":false}},"x2":{"field":"hi"},"y":{"field":"m","type":"nominal","sort":["CC","iMICE","avgmMICE","cslMICE(M)","cslMICE(m)","siMICE"],"scale":{"type":"point","padding":1.24},"axis":{"title":null}},"color":{"field":"m","type":"nominal","scale":{"domain":["CC","iMICE","avgmMICE","cslMICE(M)","cslMICE(m)","siMICE"],"range":["#000000","#FF0000","#00CD00","#0000FF","#00FFFF","#FF00FF"]},"legend":null}}},
{"mark":"tick","encoding":{"x":{"field":"lo","type":"quantitative","scale":{"domain":[-0.31,0.31],"nice":false,"zero":false},"axis":{"title":null,"values":[-0.3,-0.2,-0.1,0,0.1,0.2,0.3],"format":".1f","labelOverlap":false,"labelFlush":false}},"y":{"field":"m","type":"nominal","sort":["CC","iMICE","avgmMICE","cslMICE(M)","cslMICE(m)","siMICE"]},"color":{"field":"m","type":"nominal","legend":null}}},
{"mark":"tick","encoding":{"x":{"field":"hi","type":"quantitative","scale":{"domain":[-0.31,0.31],"nice":false,"zero":false},"axis":{"title":null,"values":[-0.3,-0.2,-0.1,0,0.1,0.2,0.3],"format":".1f","labelOverlap":false,"labelFlush":false}},"y":{"field":"m","type":"nominal","sort":["CC","iMICE","avgmMICE","cslMICE(M)","cslMICE(m)","siMICE"]},"color":{"field":"m","type":"nominal","legend":null}}},
{"mark":"point","encoding":{"x":{"field":"est","type":"quantitative","scale":{"domain":[-0.31,0.31],"nice":false,"zero":false},"axis":{"title":null,"values":[-0.3,-0.2,-0.1,0,0.1,0.2,0.3],"format":".1f","labelOverlap":false,"labelFlush":false}},"y":{"field":"m","type":"nominal","sort":["CC","iMICE","avgmMICE","cslMICE(M)","cslMICE(m)","siMICE"]},"color":{"field":"m","type":"nominal","legend":null}}}
]},
{"title":"History of cardiac valve prosthesis","width":172,"height":92,"data":{"name":"d"},"transform":[{"filter":"datum.v==='History of cardiac valve prosthesis'"}],"layer":[
{"transform":[{"filter":"datum.m==='CC'"}],"mark":{"type":"rule","color":"#808080","strokeDash":[1.5,1.5]},"encoding":{"x":{"datum":0,"type":"quantitative","scale":{"domain":[-0.344,0.344],"nice":false,"zero":false},"axis":{"title":null,"values":[-0.3,-0.2,-0.1,0,0.1,0.2,0.3],"format":".1f","labelOverlap":false,"labelFlush":false}}}},
{"mark":"rule","encoding":{"x":{"field":"lo","type":"quantitative","scale":{"domain":[-0.344,0.344],"nice":false,"zero":false},"axis":{"title":null,"values":[-0.3,-0.2,-0.1,0,0.1,0.2,0.3],"format":".1f","labelOverlap":false,"labelFlush":false}},"x2":{"field":"hi"},"y":{"field":"m","type":"nominal","sort":["CC","iMICE","avgmMICE","cslMICE(M)","cslMICE(m)","siMICE"],"scale":{"type":"point","padding":1.24},"axis":{"title":null}},"color":{"field":"m","type":"nominal","scale":{"domain":["CC","iMICE","avgmMICE","cslMICE(M)","cslMICE(m)","siMICE"],"range":["#000000","#FF0000","#00CD00","#0000FF","#00FFFF","#FF00FF"]},"legend":null}}},
{"mark":"tick","encoding":{"x":{"field":"lo","type":"quantitative","scale":{"domain":[-0.344,0.344],"nice":false,"zero":false},"axis":{"title":null,"values":[-0.3,-0.2,-0.1,0,0.1,0.2,0.3],"format":".1f","labelOverlap":false,"labelFlush":false}},"y":{"field":"m","type":"nominal","sort":["CC","iMICE","avgmMICE","cslMICE(M)","cslMICE(m)","siMICE"]},"color":{"field":"m","type":"nominal","legend":null}}},
{"mark":"tick","encoding":{"x":{"field":"hi","type":"quantitative","scale":{"domain":[-0.344,0.344],"nice":false,"zero":false},"axis":{"title":null,"values":[-0.3,-0.2,-0.1,0,0.1,0.2,0.3],"format":".1f","labelOverlap":false,"labelFlush":false}},"y":{"field":"m","type":"nominal","sort":["CC","iMICE","avgmMICE","cslMICE(M)","cslMICE(m)","siMICE"]},"color":{"field":"m","type":"nominal","legend":null}}},
{"mark":"point","encoding":{"x":{"field":"est","type":"quantitative","scale":{"domain":[-0.344,0.344],"nice":false,"zero":false},"axis":{"title":null,"values":[-0.3,-0.2,-0.1,0,0.1,0.2,0.3],"format":".1f","labelOverlap":false,"labelFlush":false}},"y":{"field":"m","type":"nominal","sort":["CC","iMICE","avgmMICE","cslMICE(M)","cslMICE(m)","siMICE"]},"color":{"field":"m","type":"nominal","legend":null}}}
]},
{"title":"Family history of stroke","width":172,"height":92,"data":{"name":"d"},"transform":[{"filter":"datum.v==='Family history of stroke'"}],"layer":[
{"transform":[{"filter":"datum.m==='CC'"}],"mark":{"type":"rule","color":"#808080","strokeDash":[1.5,1.5]},"encoding":{"x":{"datum":0,"type":"quantitative","scale":{"domain":[-0.458,0.458],"nice":false,"zero":false},"axis":{"title":null,"values":[-0.4,-0.2,0,0.2,0.4],"format":".1f","labelOverlap":false,"labelFlush":false}}}},
{"mark":"rule","encoding":{"x":{"field":"lo","type":"quantitative","scale":{"domain":[-0.458,0.458],"nice":false,"zero":false},"axis":{"title":null,"values":[-0.4,-0.2,0,0.2,0.4],"format":".1f","labelOverlap":false,"labelFlush":false}},"x2":{"field":"hi"},"y":{"field":"m","type":"nominal","sort":["CC","iMICE","avgmMICE","cslMICE(M)","cslMICE(m)","siMICE"],"scale":{"type":"point","padding":1.24},"axis":{"title":null}},"color":{"field":"m","type":"nominal","scale":{"domain":["CC","iMICE","avgmMICE","cslMICE(M)","cslMICE(m)","siMICE"],"range":["#000000","#FF0000","#00CD00","#0000FF","#00FFFF","#FF00FF"]},"legend":null}}},
{"mark":"tick","encoding":{"x":{"field":"lo","type":"quantitative","scale":{"domain":[-0.458,0.458],"nice":false,"zero":false},"axis":{"title":null,"values":[-0.4,-0.2,0,0.2,0.4],"format":".1f","labelOverlap":false,"labelFlush":false}},"y":{"field":"m","type":"nominal","sort":["CC","iMICE","avgmMICE","cslMICE(M)","cslMICE(m)","siMICE"]},"color":{"field":"m","type":"nominal","legend":null}}},
{"mark":"tick","encoding":{"x":{"field":"hi","type":"quantitative","scale":{"domain":[-0.458,0.458],"nice":false,"zero":false},"axis":{"title":null,"values":[-0.4,-0.2,0,0.2,0.4],"format":".1f","labelOverlap":false,"labelFlush":false}},"y":{"field":"m","type":"nominal","sort":["CC","iMICE","avgmMICE","cslMICE(M)","cslMICE(m)","siMICE"]},"color":{"field":"m","type":"nominal","legend":null}}},
{"mark":"point","encoding":{"x":{"field":"est","type":"quantitative","scale":{"domain":[-0.458,0.458],"nice":false,"zero":false},"axis":{"title":null,"values":[-0.4,-0.2,0,0.2,0.4],"format":".1f","labelOverlap":false,"labelFlush":false}},"y":{"field":"m","type":"nominal","sort":["CC","iMICE","avgmMICE","cslMICE(M)","cslMICE(m)","siMICE"]},"color":{"field":"m","type":"nominal","legend":null}}}
]}
],
"config":{
"font":"Liberation Sans",
"view":{"stroke":"#555555","strokeWidth":1.5},
"rule":{"strokeWidth":1},
"tick":{"thickness":1,"size":5},
"point":{"filled":true,"size":12,"opacity":1},
"axis":{"labelFont":"Liberation Sans","labelFontSize":8.5,"labelColor":"#000000","grid":false,"labelOverlap":false,"labelSeparation":0},
"axisX":{"offset":3,"tickSize":3,"labelPadding":0,"domainColor":"#000000","tickColor":"#000000","domainWidth":1,"tickWidth":1,"labelOverlap":false},
"axisY":{"domain":false,"ticks":false,"labelPadding":4,"labelFontSize":8.3},
"title":{"font":"Liberation Sans","fontSize":8.5,"fontWeight":"bold","color":"#000000","offset":5}
}
}
